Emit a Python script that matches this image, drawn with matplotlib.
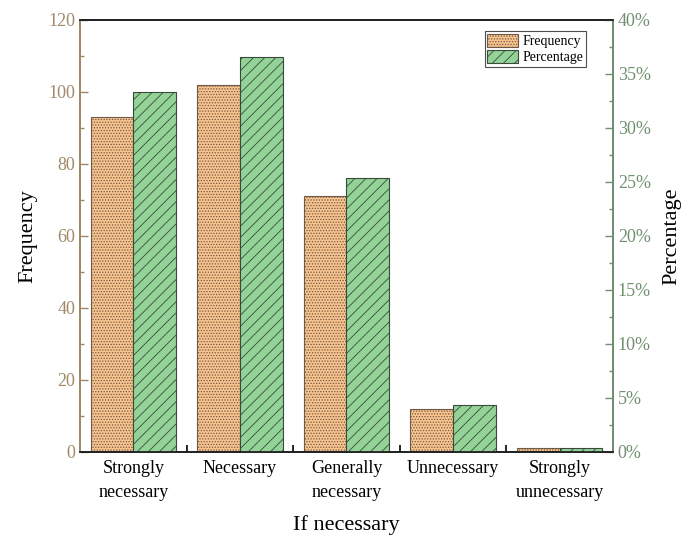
import numpy as np
import matplotlib.pyplot as plt
from matplotlib.ticker import MultipleLocator, PercentFormatter

categories = ["Strongly\nnecessary", "Necessary", "Generally\nnecessary",
              "Unnecessary", "Strongly\nunnecessary"]
frequency = [93, 102, 71, 12, 1]
percentage = [33.3, 36.6, 25.4, 4.3, 0.36]

plt.rcParams['font.family'] = ['Liberation Serif', 'DejaVu Serif']
plt.rcParams['hatch.linewidth'] = 0.6

left_col = '#a08868'
right_col = '#6f8f6f'

fig = plt.figure(figsize=(6.81, 5.38), dpi=100)
ax = fig.add_axes([0.1175, 0.16, 0.7825, 0.803])
ax2 = ax.twinx()

x = np.arange(len(categories))
w = 0.4
b1 = ax.bar(x - w / 2, frequency, w, color='#f9c38e', edgecolor='#6e5a48',
            hatch='......', linewidth=0.8, label='Frequency')
b2 = ax2.bar(x + w / 2, percentage, w, color='#93d398', edgecolor='#3a4a3a',
             hatch='///', linewidth=0.8, label='Percentage')

ax.set_xlim(-0.5, 4.5)
ax.set_ylim(0, 120)
ax2.set_ylim(0, 40)

ax.set_xticks(x)
ax.set_xticklabels(categories, fontsize=13, linespacing=1.5)
ax.set_xticks(x[:-1] + 0.5, minor=True)
ax.tick_params(axis='x', which='major', length=0, pad=6)
ax.tick_params(axis='x', which='minor', direction='in', length=5, width=1.2)

ax.yaxis.set_major_locator(MultipleLocator(20))
ax.yaxis.set_minor_locator(MultipleLocator(10))
ax.tick_params(axis='y', which='both', direction='in', colors=left_col,
               labelsize=13, width=1.0)
ax.tick_params(axis='y', which='major', length=6)
ax.tick_params(axis='y', which='minor', length=3)

ax2.yaxis.set_major_locator(MultipleLocator(5))
ax2.yaxis.set_minor_locator(MultipleLocator(2.5))
ax2.yaxis.set_major_formatter(PercentFormatter(decimals=0))
ax2.tick_params(axis='y', which='both', direction='in', colors=right_col,
                labelsize=13, width=1.0)
ax2.tick_params(axis='y', which='major', length=6)
ax2.tick_params(axis='y', which='minor', length=3)

for a in (ax, ax2):
    a.spines['left'].set_color(left_col)
    a.spines['right'].set_color(right_col)
    a.spines['top'].set_color('#222222')
    a.spines['bottom'].set_color('#222222')
    for s in a.spines.values():
        s.set_linewidth(1.3)

ax.set_ylabel("Frequency", fontsize=16, labelpad=8)
ax2.set_ylabel("Percentage", fontsize=16, labelpad=8)
ax.set_xlabel("If necessary", fontsize=16, labelpad=10)

leg = ax.legend([b1, b2], ['Frequency', 'Percentage'], loc='upper right',
                bbox_to_anchor=(0.962, 0.99), fontsize=10, frameon=True,
                fancybox=False, edgecolor='#222222', borderpad=0.2,
                handlelength=2.2, handleheight=1.1, handletextpad=0.3,
                labelspacing=0.1)
leg.get_frame().set_linewidth(0.8)

fig.savefig('out.png', dpi=100)
